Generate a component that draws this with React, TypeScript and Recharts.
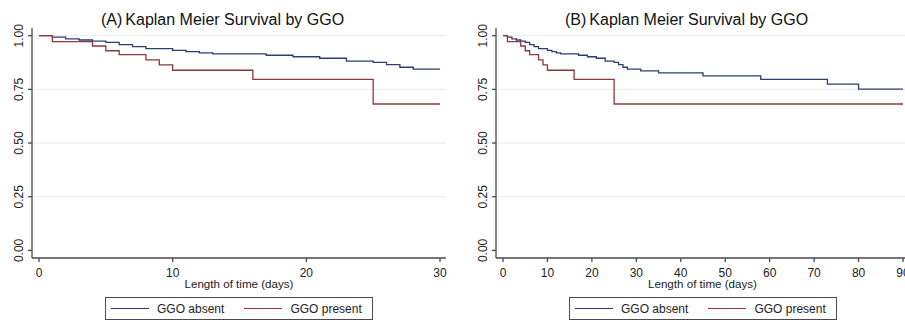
import { CartesianGrid, Line, LineChart, XAxis, YAxis } from 'recharts';

// Panel A: follow-up to 30 days
const absentDaysA = [0, 1, 2, 3, 4, 5, 6, 7, 8, 10, 11, 12, 13, 17, 19, 21, 23, 25, 26, 27, 28, 30];
const absentSurvA = [1, 0.993, 0.985, 0.98, 0.975, 0.969, 0.958, 0.949, 0.94, 0.932, 0.926, 0.92, 0.915, 0.909, 0.902, 0.895, 0.882, 0.876, 0.865, 0.853, 0.844, 0.844];
const presentDaysA = [0, 1, 4, 5, 6, 8, 9, 10, 16, 25, 30];
const presentSurvA = [1, 0.972, 0.952, 0.93, 0.912, 0.887, 0.864, 0.839, 0.797, 0.682, 0.682];

// Panel B: follow-up to 90 days
const absentDaysB = [0, 1, 2, 3, 4, 5, 6, 7, 8, 10, 11, 12, 13, 17, 19, 21, 23, 25, 26, 27, 28, 31, 35, 45, 58, 73, 80, 90];
const absentSurvB = [1, 0.993, 0.985, 0.98, 0.975, 0.969, 0.958, 0.949, 0.94, 0.932, 0.926, 0.92, 0.915, 0.909, 0.902, 0.895, 0.882, 0.876, 0.865, 0.853, 0.844, 0.836, 0.827, 0.813, 0.797, 0.774, 0.751, 0.751];
const presentDaysB = [0, 1, 4, 5, 6, 8, 9, 10, 16, 25, 90];
const presentSurvB = [1, 0.972, 0.952, 0.93, 0.912, 0.887, 0.864, 0.839, 0.797, 0.682, 0.682];

const xTicksA = [0, 10, 20, 30];
const xTicksB = [0, 10, 20, 30, 40, 50, 60, 70, 80, 90];
const yTicks = [0, 0.25, 0.5, 0.75, 1];
const gridValues = [0.25, 0.5, 0.75, 1];

const BLUE = '#2d3d72';
const RED = '#8e373d';
const AXIS = '#4a4a4a';
const TEXT = '#222';

const zip = (days: number[], surv: number[]) => days.map((t, i) => ({ t, s: surv[i] }));

const YTick = ({ x, y, payload }: any) => {
  const cx = x - 7;
  return (
    <text
      x={cx}
      y={y}
      transform={`rotate(-90 ${cx} ${y})`}
      textAnchor="middle"
      dominantBaseline="central"
      fontSize={12}
      fill={TEXT}
    >
      {Number(payload.value).toFixed(2)}
    </text>
  );
};

const LegendItem = ({ color, label }: { color: string; label: string }) => (
  <span style={{ display: 'inline-flex', alignItems: 'center' }}>
    <span style={{ display: 'inline-block', width: 38, borderTop: `1.3px solid ${color}`, marginRight: 8 }} />
    <span>{label}</span>
  </span>
);

interface PanelProps {
  left: number;
  width: number;
  letter: string;
  absent: { t: number; s: number }[];
  present: { t: number; s: number }[];
  xMax: number;
  xTicks: number[];
}

function Panel({ left, width, letter, absent, present, xMax, xTicks }: PanelProps) {
  return (
    <div style={{ position: 'absolute', left, top: 0, width, height: 323 }}>
      <LineChart width={width} height={323} margin={{ top: 28, right: 6, bottom: 33, left: 0 }}>
        <CartesianGrid vertical={false} stroke="#ececec" horizontalValues={gridValues} />
        <XAxis
          dataKey="t"
          type="number"
          domain={[0, xMax]}
          ticks={xTicks}
          allowDuplicatedCategory={false}
          padding={{ left: 7, right: 6 }}
          height={32}
          tickSize={4}
          tickMargin={6}
          stroke={AXIS}
          strokeWidth={1.3}
          tick={{ fill: TEXT, fontSize: 12 }}
          interval={0}
          label={{ value: 'Length of time (days)', position: 'insideBottom', offset: 2, fill: TEXT, fontSize: 11.6 }}
        />
        <YAxis
          type="number"
          domain={[0, 1]}
          ticks={yTicks}
          width={32}
          padding={{ top: 7.7, bottom: 7.6 }}
          tickSize={4}
          stroke={AXIS}
          strokeWidth={1.3}
          tick={<YTick />}
          interval={0}
        />
        <Line
          data={absent}
          dataKey="s"
          type="stepAfter"
          stroke={BLUE}
          strokeWidth={1.3}
          dot={false}
          isAnimationActive={false}
        />
        <Line
          data={present}
          dataKey="s"
          type="stepAfter"
          stroke={RED}
          strokeWidth={1.3}
          dot={false}
          isAnimationActive={false}
        />
      </LineChart>
      <div
        style={{
          position: 'absolute',
          left: 101,
          top: 12,
          fontSize: 16,
          lineHeight: '16px',
          whiteSpace: 'nowrap',
          color: '#111',
        }}
      >
        <span style={{ marginRight: 3, fontWeight: 500 }}>({letter})</span>
        <span>Kaplan Meier Survival by GGO</span>
      </div>
      <div
        style={{
          position: 'absolute',
          left: 105,
          top: 297,
          width: 268,
          height: 23,
          boxSizing: 'border-box',
          border: `1.3px solid ${AXIS}`,
          display: 'flex',
          alignItems: 'center',
          paddingLeft: 5,
          fontSize: 12,
          color: TEXT,
          background: '#fff',
        }}
      >
        <LegendItem color={BLUE} label="GGO absent" />
        <span style={{ width: 20 }} />
        <LegendItem color={RED} label="GGO present" />
      </div>
    </div>
  );
}

export default function App() {
  return (
    <div
      style={{
        position: 'fixed',
        left: 0,
        top: 0,
        width: 905,
        height: 323,
        overflow: 'hidden',
        background: '#fff',
        fontFamily: '"Liberation Sans", Arial, sans-serif',
      }}
    >
      <Panel
        left={0}
        width={452}
        letter="A"
        absent={zip(absentDaysA, absentSurvA)}
        present={zip(presentDaysA, presentSurvA)}
        xMax={30}
        xTicks={xTicksA}
      />
      <Panel
        left={464}
        width={451}
        letter="B"
        absent={zip(absentDaysB, absentSurvB)}
        present={zip(presentDaysB, presentSurvB)}
        xMax={90}
        xTicks={xTicksB}
      />
    </div>
  );
}
